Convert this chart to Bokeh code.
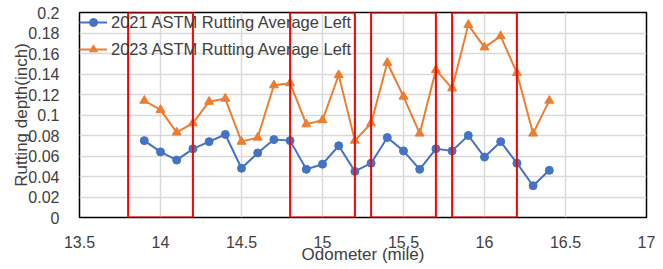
from bokeh.plotting import figure
from bokeh.models import FixedTicker, Legend, LegendItem, Range1d
from bokeh.embed import file_html
from bokeh.resources import INLINE

odometer = [13.9, 14.0, 14.1, 14.2, 14.3, 14.4, 14.5, 14.6, 14.7, 14.8, 14.9, 15.0, 15.1,
            15.2, 15.3, 15.4, 15.5, 15.6, 15.7, 15.8, 15.9, 16.0, 16.1, 16.2, 16.3, 16.4]
rut_2021 = [0.075, 0.064, 0.056, 0.067, 0.074, 0.081, 0.048, 0.063, 0.076, 0.075, 0.047, 0.052, 0.070,
            0.045, 0.053, 0.078, 0.065, 0.047, 0.067, 0.065, 0.080, 0.059, 0.074, 0.053, 0.031, 0.046]
rut_2023 = [0.114, 0.105, 0.083, 0.092, 0.113, 0.116, 0.074, 0.078, 0.129, 0.131, 0.091, 0.095, 0.139,
            0.075, 0.092, 0.151, 0.118, 0.082, 0.144, 0.126, 0.188, 0.166, 0.177, 0.141, 0.082, 0.114]
box_left = [13.8, 14.8, 15.3, 15.8]
box_right = [14.2, 15.2, 15.7, 16.2]
box_bottom = [0, 0, 0, 0]
box_top = [0.2, 0.2, 0.2, 0.2]
x_ticks = [13.5, 14.0, 14.5, 15.0, 15.5, 16.0, 16.5, 17.0]
x_tick_labels = ["13.5", "14", "14.5", "15", "15.5", "16", "16.5", "17"]
y_ticks = [0, 0.02, 0.04, 0.06, 0.08, 0.1, 0.12, 0.14, 0.16, 0.18, 0.2]
y_tick_labels = ["0", "0.02", "0.04", "0.06", "0.08", "0.1", "0.12", "0.14", "0.16", "0.18", "0.2"]

FONT = "Liberation Sans"
BLUE = "#4472C4"
ORANGE = "#ED7D31"
TEXT = "#404040"

p = figure(frame_width=567, frame_height=205, output_backend="svg", toolbar_location=None,
           x_range=Range1d(13.5, 17), y_range=Range1d(0, 0.2),
           min_border_left=79, min_border_right=9, min_border_top=12, min_border_bottom=40)
p.outline_line_color = "black"
p.outline_line_width = 1.5

for ax, ticks, labels in ((p.xaxis[0], x_ticks, x_tick_labels), (p.yaxis[0], y_ticks, y_tick_labels)):
    ax.ticker = FixedTicker(ticks=ticks)
    ax.major_label_overrides = {t: l for t, l in zip(ticks, labels)}
    ax.major_tick_line_color = None
    ax.minor_tick_line_color = None
    ax.axis_line_color = None
    ax.major_label_text_font = FONT
    ax.major_label_text_font_size = "16px"
    ax.major_label_text_color = TEXT
    ax.axis_label_text_font = FONT
    ax.axis_label_text_font_size = "17px"
    ax.axis_label_text_font_style = "normal"
    ax.axis_label_text_color = TEXT

p.xaxis.axis_label = "Odometer (mile)"
p.yaxis.axis_label = "Rutting depth(inch)"
p.xaxis.major_label_standoff = 12
p.xaxis.axis_label_standoff = -6
p.yaxis.major_label_standoff = 14
p.yaxis.axis_label_standoff = -6

p.xgrid.ticker = FixedTicker(ticks=x_ticks)
p.ygrid.ticker = FixedTicker(ticks=y_ticks)
p.grid.grid_line_color = "#d9d9d9"
p.grid.grid_line_width = 1.5

l1 = p.line(odometer, rut_2021, line_color=BLUE, line_width=2)
m1 = p.scatter(odometer, rut_2021, marker="circle", size=8, fill_color=BLUE, line_color=BLUE)
l2 = p.line(odometer, rut_2023, line_color=ORANGE, line_width=2)
m2 = p.scatter(odometer, rut_2023, marker="triangle", size=9, fill_color=ORANGE, line_color=ORANGE)

p.quad(left=box_left, right=box_right, bottom=box_bottom, top=box_top,
       fill_alpha=0, line_color="red", line_width=2)

legend = Legend(items=[
    LegendItem(label="2021 ASTM Rutting Average Left", renderers=[l1, m1]),
    LegendItem(label="2023 ASTM Rutting Average Left", renderers=[l2, m2]),
], location="top_left")
legend.background_fill_alpha = 0
legend.border_line_color = None
legend.label_text_font = FONT
legend.label_text_font_size = "16.5px"
legend.label_text_color = TEXT
legend.glyph_width = 28
legend.glyph_height = 20
legend.label_height = 20
legend.label_standoff = 4
legend.spacing = 7
legend.padding = 3
legend.margin = 0
p.add_layout(legend)

open("out.html", "w").write(file_html(p, INLINE))
